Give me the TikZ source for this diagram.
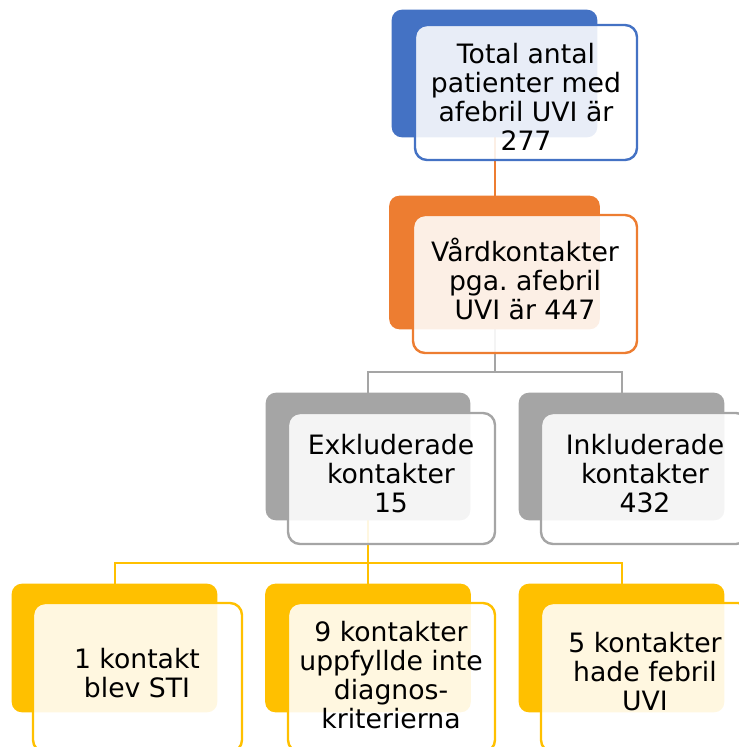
\documentclass[tikz,border=0pt]{standalone}
\usepackage{fontspec}
\setmainfont{DejaVu Sans}
\frenchspacing
\definecolor{cblue}{HTML}{4472C4}
\definecolor{corange}{HTML}{ED7D31}
\definecolor{cgray}{HTML}{A5A5A5}
\definecolor{cyellow}{HTML}{FFC000}
\begin{document}
\begin{tikzpicture}[x=0.75pt,y=-0.75pt,
  back/.style={rectangle, rounded corners=7.5pt, draw=none, inner sep=0pt},
  front/.style={rectangle, rounded corners=9pt, line width=1.8pt, fill=white, fill opacity=0.88, draw opacity=1, inner sep=0pt},
  lbl/.style={align=center, font=\fontsize{20pt}{21.75pt}\selectfont, text=black, inner sep=0pt},
  conn/.style={line width=1.5pt}]
\useasboundingbox (0,0) rectangle (739,747);
\clip (0,0) rectangle (739,747);
% back box placeholders
\node[back, minimum width=153.75pt, minimum height=95.25pt] (b1) at (494.5,73.5) {};
\node[back, minimum width=157.5pt, minimum height=99.75pt] (b2) at (494.5,262.5) {};
\node[back, minimum width=153pt, minimum height=95.25pt] (b3) at (368,456.5) {};
\node[back, minimum width=153.75pt, minimum height=95.25pt] (b4) at (621.5,456.5) {};
\node[back, minimum width=153.75pt, minimum height=96pt] (b5) at (114.5,648) {};
\node[back, minimum width=153.75pt, minimum height=96pt] (b6) at (368,648) {};
\node[back, minimum width=153.75pt, minimum height=96pt] (b7) at (621.5,648) {};
% connectors (under the boxes)
\coordinate (h2) at (0,372);
\coordinate (h3) at (0,563);
\draw[conn, corange] (b1.south) -- (b2.north);
\draw[conn, cgray] (b2.south) -- (b2.south |- h2) -| (b3.north);
\draw[conn, cgray] (b2.south |- h2) -| (b4.north);
\draw[conn, cyellow] (b3.south) -- (b3.south |- h3) -| (b5.north);
\draw[conn, cyellow] (b3.south |- h3) -- (b6.north);
\draw[conn, cyellow] (b3.south |- h3) -| (b7.north);
% back boxes
\fill[cblue, rounded corners=7.5pt] (b1.north west) rectangle (b1.south east);
\fill[corange, rounded corners=7.5pt] (b2.north west) rectangle (b2.south east);
\fill[cgray, rounded corners=7.5pt] (b3.north west) rectangle (b3.south east);
\fill[cgray, rounded corners=7.5pt] (b4.north west) rectangle (b4.south east);
\fill[cyellow, rounded corners=7.5pt] (b5.north west) rectangle (b5.south east);
\fill[cyellow, rounded corners=7.5pt] (b6.north west) rectangle (b6.south east);
\fill[cyellow, rounded corners=7.5pt] (b7.north west) rectangle (b7.south east);
% front boxes
\node[front, draw=cblue, minimum width=166.5pt, minimum height=101.25pt] (f1) at (526,92.5) {};
\node[front, draw=corange, minimum width=168pt, minimum height=103.5pt] (f2) at (525,284) {};
\node[front, draw=cgray, minimum width=155.25pt, minimum height=98.25pt] (f3) at (391.5,478.5) {};
\node[front, draw=cgray, minimum width=155.25pt, minimum height=98.25pt] (f4) at (644.5,478.5) {};
\node[front, draw=cyellow, minimum width=156.75pt, minimum height=111.75pt] (f5) at (137.5,677.5) {};
\node[front, draw=cyellow, minimum width=155.25pt, minimum height=111.75pt] (f6) at (391.5,677.5) {};
\node[front, draw=cyellow, minimum width=156.75pt, minimum height=111.75pt] (f7) at (645.5,677.5) {};
% texts
\node[lbl] (t1) at (526,97) {Total antal\\patienter med\\afebril UVI är\\277};
\node[lbl] (t2) at (525,279) {Vårdkontakter\\pga. afebril\\UVI är 447};
\node[lbl] (t3) at (391,474) {Exkluderade\\kontakter\\15};
\node[lbl] (t4) at (645,474) {Inkluderade\\kontakter\\432};
\node[lbl] (t5) at (137,673) {1 kontakt\\blev STI};
\node[lbl] (t6) at (391,675) {9 kontakter\\uppfyllde inte\\diagnos-\\kriterierna};
\node[lbl] (t7) at (645,672) {5 kontakter\\hade febril\\UVI};
\end{tikzpicture}
\end{document}
